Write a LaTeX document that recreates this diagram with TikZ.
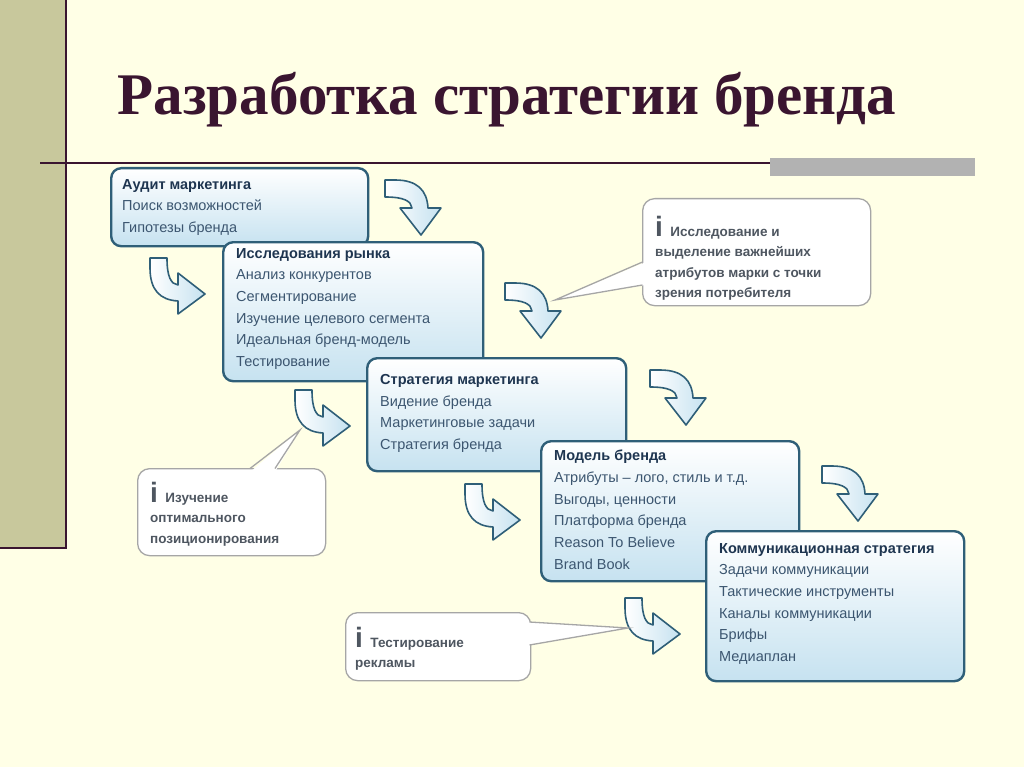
\documentclass[tikz,border=0pt]{standalone}
\usepackage{fontspec}
\setmainfont{Liberation Sans}
\newfontfamily\titlefont{Liberation Serif}
\definecolor{bg}{HTML}{FFFFE6}
\definecolor{stripe}{HTML}{C8C89C}
\definecolor{maroon}{HTML}{3A1530}
\definecolor{edge}{HTML}{2F5F78}
\definecolor{lblue}{HTML}{C6E2F0}
\definecolor{ttl}{HTML}{1E3550}
\definecolor{txt}{HTML}{3C5670}
\definecolor{cgray}{HTML}{4E5660}
\tikzset{
  boxst/.style={draw=edge, line width=2.4pt, rounded corners=10pt, top color=white, bottom color=lblue, anchor=north west, inner sep=0pt},
  btext/.style={anchor=north west, align=left, font=\fontsize{14.5}{21.7}\selectfont, text=txt, inner sep=0pt},
  arrst/.style={draw=edge, line width=1.6pt, left color=white, right color=lblue, line join=round},
  callst/.style={draw=gray!70, line width=1.3pt, rounded corners=12pt, fill=white},
  tailst/.style={draw=gray!70, line width=1.3pt},
  ctext/.style={anchor=north west, align=left, font=\bfseries\fontsize{13.5}{20.5}\selectfont, text=cgray, inner sep=0pt},
  pics/downarr/.style={code={
    \path[arrst] (0,0) -- (10,0) .. controls (32,0) and (42,10) .. (43,28) -- (56,28) -- (36,55) -- (15,28) -- (27,28) .. controls (26,21) and (19,17) .. (0,17) -- cycle;}},
  pics/rightarr/.style={code={
    \path[arrst] (0,0) -- (0,10) .. controls (0,32) and (10,42) .. (28,43) -- (28,56) -- (55,36) -- (28,15) -- (28,27) .. controls (21,26) and (17,19) .. (17,0) -- cycle;}}
}
\newcommand{\bigi}{{\fontsize{28}{20}\selectfont\bfseries i}}
\begin{document}
\begin{tikzpicture}[x=1pt,y=-1pt]
\fill[bg] (0,0) rectangle (1024,767);
\useasboundingbox (0,0) rectangle (1024,767);
\fill[stripe] (0,0) rectangle (65,548);
\draw[maroon, line width=2pt] (66,0) -- (66,548) -- (0,548);
\draw[maroon, line width=1.5pt] (40,163) -- (975,163);
\fill[gray!60] (770,158) rectangle (975,176);
\node[font=\titlefont\bfseries\fontsize{59}{64}\selectfont, text=maroon] (title) at (507,100) {Разработка стратегии бренда};

% arrows
\pic at (385,180) {downarr};
\pic at (150,258) {rightarr};
\pic at (505,283) {downarr};
\pic at (295,390) {rightarr};
\pic at (650,370) {downarr};
\pic at (465,484) {rightarr};
\pic at (822,466) {downarr};
\pic at (625,598) {rightarr};

% boxes
\node[boxst, minimum width=257, minimum height=78] (b1) at (110,167) {};
\node[btext] (t1) at (122,179) {\textbf{\textcolor{ttl}{Аудит маркетинга}}\\Поиск возможностей\\Гипотезы бренда};
\node[boxst, minimum width=260, minimum height=139] (b2) at (222,241) {};
\node[btext] (t2) at (236,248) {\textbf{\textcolor{ttl}{Исследования рынка}}\\Анализ конкурентов\\Сегментирование\\Изучение целевого сегмента\\Идеальная бренд-модель\\Тестирование};
\node[boxst, minimum width=259, minimum height=113] (b3) at (366,357) {};
\node[btext] (t3) at (380,374) {\textbf{\textcolor{ttl}{Стратегия маркетинга}}\\Видение бренда\\Маркетинговые задачи\\Стратегия бренда};
\node[boxst, minimum width=258, minimum height=140] (b4) at (540,440) {};
\node[btext] (t4) at (554,450) {\textbf{\textcolor{ttl}{Модель бренда}}\\Атрибуты – лого, стиль и т.д.\\Выгоды, ценности\\Платформа бренда\\Reason To Believe\\Brand Book};
\node[boxst, minimum width=258, minimum height=150] (b5) at (705,530) {};
\node[btext] (t5) at (719,543) {\textbf{\textcolor{ttl}{Коммуникационная стратегия}}\\Задачи коммуникации\\Тактические инструменты\\Каналы коммуникации\\Брифы\\Медиаплан};

% callouts
\coordinate (p1) at (555,300);
\node[callst, anchor=north west, minimum width=228, minimum height=107] (c1) at (642,198) {};
\fill[white] (646,262) -- (p1) -- (646,285) -- cycle;
\draw[tailst] (642.5,262) -- (p1) -- (642.5,285);
\node[ctext] (ct1) at (655,216) {\bigi\ \ Исследование и\\выделение важнейших\\атрибутов марки с точки\\зрения потребителя};

\coordinate (p2) at (300,430);
\node[callst, anchor=north west, minimum width=188, minimum height=87] (c2) at (137,468) {};
\fill[white] (250,472) -- (p2) -- (275,472) -- cycle;
\draw[tailst] (250,468.5) -- (p2) -- (275,468.5);
\node[ctext] (ct2) at (150,482) {\bigi\ \ Изучение\\оптимального\\позиционирования};

\coordinate (p3) at (628,628);
\node[callst, anchor=north west, minimum width=185, minimum height=68] (c3) at (345,612) {};
\fill[white] (526,622) -- (p3) -- (526,645) -- cycle;
\draw[tailst] (529.5,622) -- (p3) -- (529.5,645);
\node[ctext] (ct3) at (355,627) {\bigi\ \ Тестирование\\рекламы};
\end{tikzpicture}
\end{document}
